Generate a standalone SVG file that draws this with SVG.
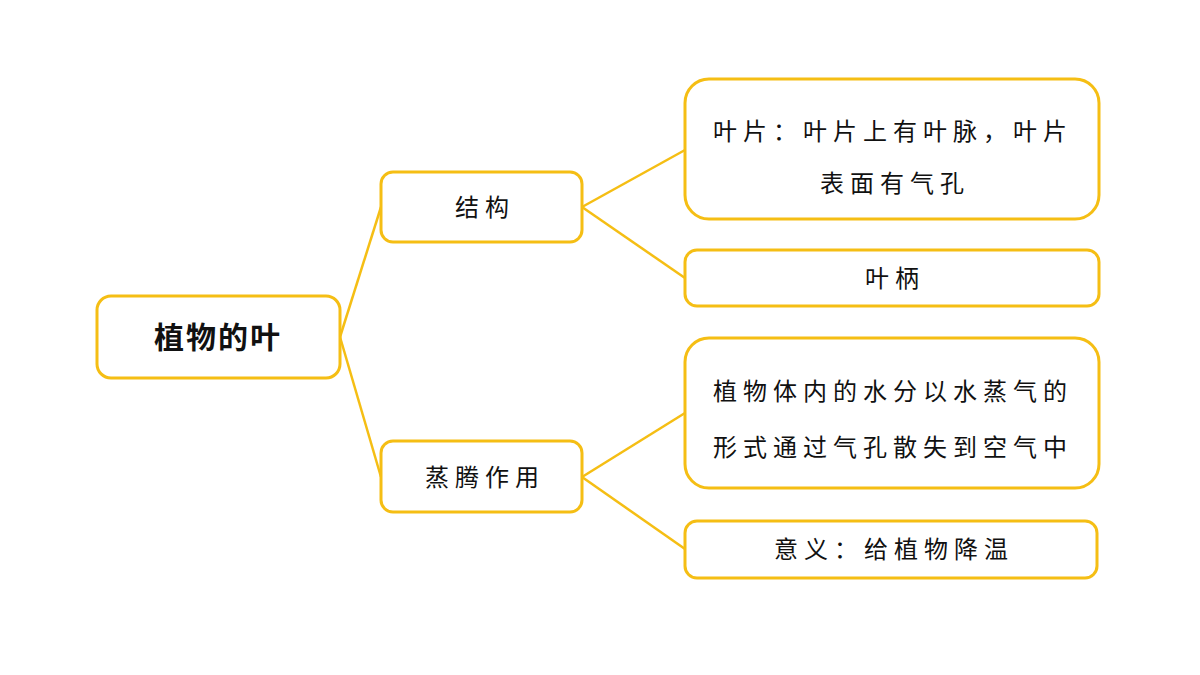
<svg xmlns="http://www.w3.org/2000/svg" width="1200" height="675" viewBox="0 0 1200 675">
<style>
.n{fill:#fff;stroke:#F5BE14;stroke-width:3}
.c{stroke:#F5BE14;stroke-width:2.5;fill:none}
text{font-family:"Noto Sans CJK SC","Noto Sans",sans-serif;font-size:24px;fill:#111;letter-spacing:6px}
.m{text-anchor:middle}
</style>
<rect width="1200" height="675" fill="#fff"/>
<g id="connectors">
<line class="c" x1="340" y1="337" x2="381" y2="207"/>
<line class="c" x1="340" y1="337" x2="381" y2="477"/>
<line class="c" x1="582" y1="207" x2="685" y2="150"/>
<line class="c" x1="582" y1="207" x2="685" y2="278"/>
<line class="c" x1="582" y1="477" x2="685" y2="413"/>
<line class="c" x1="582" y1="477" x2="685" y2="549"/>
</g>
<g id="root"><rect class="n" x="97" y="296" width="243" height="82" rx="14"/><text class="m" x="218" y="348" style="font-size:30px;font-weight:bold;letter-spacing:2px">植物的叶</text></g>
<g id="jiegou"><rect class="n" x="381" y="172" width="201" height="70" rx="12"/><text class="m" x="485" y="216">结构</text></g>
<g id="zhengteng"><rect class="n" x="381" y="441" width="201" height="71" rx="12"/><text class="m" x="485" y="486">蒸腾作用</text></g>
<g id="yepian"><rect class="n" x="685" y="79" width="414" height="140" rx="24"/><text x="713" y="140">叶片：叶片上有叶脉，叶片</text><text class="m" x="895" y="192">表面有气孔</text></g>
<g id="yebing"><rect class="n" x="685" y="250" width="414" height="56" rx="12"/><text class="m" x="895" y="287">叶柄</text></g>
<g id="shuifen"><rect class="n" x="685" y="338" width="414" height="150" rx="24"/><text x="713" y="400">植物体内的水分以水蒸气的</text><text x="713" y="456">形式通过气孔散失到空气中</text></g>
<g id="yiyi"><rect class="n" x="685" y="521" width="412" height="57" rx="12"/><text class="m" x="894" y="558">意义：给植物降温</text></g>
</svg>
